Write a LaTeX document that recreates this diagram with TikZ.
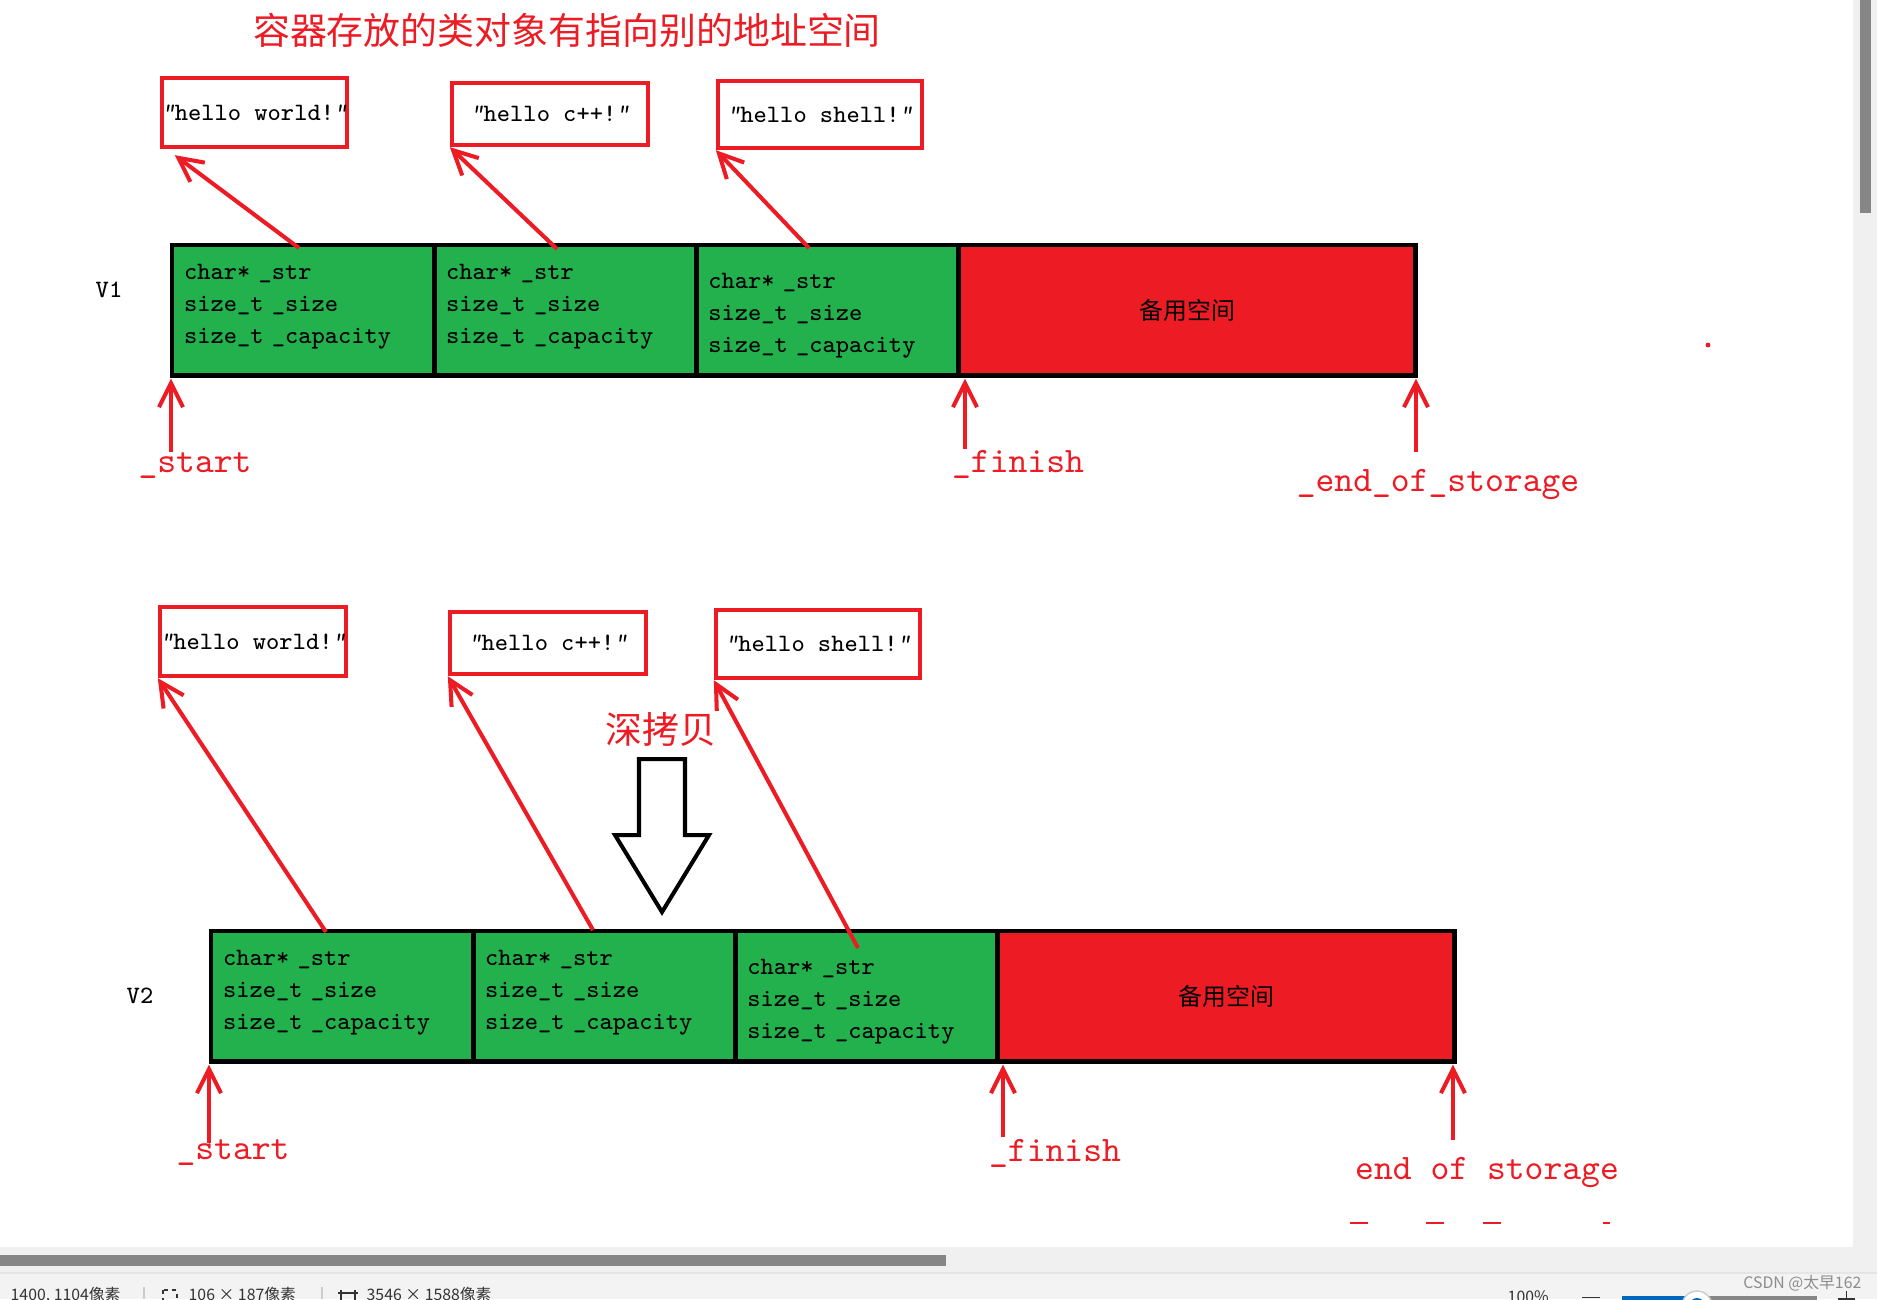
\documentclass[tikz,border=0pt]{standalone}
\usepackage{fontspec}
\newfontfamily\cjk{Noto Sans CJK SC}
\usetikzlibrary{positioning,arrows.meta}
\definecolor{cellgreen}{HTML}{22B14C}
\definecolor{boxred}{HTML}{ED1C24}
\definecolor{panelgray}{HTML}{F0F0F0}
\definecolor{statusgray}{HTML}{F3F3F3}
\definecolor{thumbgray}{HTML}{868686}
\definecolor{sliderblue}{HTML}{0067C0}
\definecolor{inkgray}{HTML}{333333}
\newcommand{\memberfont}{\fontsize{7.1}{9.1}\selectfont\ttfamily}
\newcommand{\tagfont}{\fontsize{10.2}{12}\selectfont\ttfamily}
\newcommand{\headfont}{\fontsize{10.5}{12}\selectfont\cjk}
\newcommand{\sparefont}{\fontsize{6.8}{8}\selectfont\cjk}
\newcommand{\statusfont}{\fontsize{4.5}{5}\selectfont\cjk}
\newcommand{\dq}{{\slshape"}}
\newcommand{\members}[1]{\raisebox{#1}[\height][\depth]{\begin{tabular}{@{}l@{}}char* \_str\\size\_t \_size\\size\_t \_capacity\end{tabular}}}
\tikzset{
  cell/.style={draw=black, line width=1.4pt, fill=cellgreen, anchor=north west, outer sep=0pt,
    minimum height=1.3cm, text width=2.38cm, inner xsep=0.12cm, inner ysep=0pt,
    align=left, font=\memberfont},
  spare/.style={draw=black, line width=1.4pt, fill=boxred, outer sep=0pt, minimum width=4.57cm,
    minimum height=1.3cm, font=\sparefont},
  strbox/.style={draw=boxred, line width=1.2pt, inner sep=0pt, font=\memberfont},
  ptr/.style={draw=boxred, line width=1.15pt, -{Straight Barb[length=0.24cm, width=0.24cm]}},
  tagtext/.style={text=boxred, font=\tagfont, inner sep=0pt},
  statustext/.style={text=inkgray, font=\statusfont, inner sep=0pt, anchor=base west}
}
\begin{document}
\begin{tikzpicture}[x=0.01cm, y=-0.01cm]
\useasboundingbox (0,0) rectangle (1877,1299);
\fill[white] (0,0) rectangle (1877,1299);

\node[text=boxred, font=\headfont] (title) at (567,30) {容器存放的类对象有指向别的地址空间};

\node[strbox, minimum width=1.85cm, minimum height=0.69cm] (s1) at (254.5,112.5) {\dq hello world!\dq};
\node[strbox, minimum width=1.96cm, minimum height=0.62cm] (s2) at (550,114) {\dq hello c++!\dq};
\node[strbox, minimum width=2.04cm, minimum height=0.67cm] (s3) at (820,114.5) {\dq hello shell!\dq};

\node[font=\memberfont] (v1) at (109,290) {V1};
\node[cell] (a1) at (172,245) {\members{1.4pt}};
\node[cell, right=0pt of a1] (b1) {\members{1.4pt}};
\node[cell, right=0pt of b1] (c1) {\members{-1.2pt}};
\node[spare, right=0pt of c1] (r1) {备用空间};

\coordinate (t1) at (299,248);
\coordinate (t2) at (557,249);
\coordinate (t3) at (809,248);
\draw[ptr] (t1) -- ([xshift=0.15cm, yshift=-0.06cm]s1.south west);
\draw[ptr] (t2) -- (s2.south west);
\draw[ptr] (t3) -- (s3.south west);

\coordinate (st1) at (171,452);
\coordinate (fi1) at (965,449);
\coordinate (en1) at (1416,452);
\draw[ptr, shorten >=1pt] (st1) -- (st1 |- a1.south);
\draw[ptr, shorten >=1pt] (fi1) -- (fi1 |- a1.south);
\draw[ptr, shorten >=1pt] (en1) -- (en1 |- a1.south);
\node[tagtext] (l1) at (195,466) {\_start};
\node[tagtext] (l2) at (1018,464) {\_finish};
\node[tagtext] (l3) at (1438,485) {\_end\_of\_storage};
\fill[boxred] (1708,345) circle (0.7pt);

\node[strbox, minimum width=1.86cm, minimum height=0.69cm] (s4) at (253,641.5) {\dq hello world!\dq};
\node[strbox, minimum width=1.96cm, minimum height=0.62cm] (s5) at (548,643) {\dq hello c++!\dq};
\node[strbox, minimum width=2.04cm, minimum height=0.68cm] (s6) at (818,644) {\dq hello shell!\dq};

\node[text=boxred, font=\headfont] (deep) at (661,729) {深拷贝};
\draw[black, line width=1.15pt, fill=white] (639,759) -- (685,759) -- (685,835) -- (709,835)
  -- (662,912) -- (615,835) -- (639,835) -- cycle;

\node[font=\memberfont] (v2) at (140,996) {V2};
\node[cell] (a2) at (211,931) {\members{1.4pt}};
\node[cell, right=0pt of a2] (b2) {\members{1.4pt}};
\node[cell, right=0pt of b2] (c2) {\members{-1.2pt}};
\node[spare, right=0pt of c2] (r2) {备用空间};

\coordinate (t4) at (326,932);
\coordinate (t5) at (593,930);
\coordinate (t6) at (858,948);
\draw[ptr] (t4) -- (s4.south west);
\draw[ptr] (t5) -- (s5.south west);
\draw[ptr] (t6) -- (s6.south west);

\coordinate (st2) at (209,1143);
\coordinate (fi2) at (1003,1137);
\coordinate (en2) at (1453,1140);
\draw[ptr, shorten >=1pt] (st2) -- (st2 |- a2.south);
\draw[ptr, shorten >=1pt] (fi2) -- (fi2 |- a2.south);
\draw[ptr, shorten >=1pt] (en2) -- (en2 |- a2.south);
\node[tagtext] (l4) at (233,1153) {\_start};
\node[tagtext] (l5) at (1055,1153) {\_finish};
\node[tagtext] (l6) at (1487,1173) {end of storage};
\foreach \a/\b in {1350/1368,1426/1444,1483/1501,1603/1610}
  \draw[boxred, line width=0.6pt] (\a,1223) -- (\b,1223);

\fill[panelgray] (1853,0) rectangle (1877,1273);
\fill[panelgray] (0,1247) rectangle (1877,1273);
\fill[thumbgray] (1860,0) rectangle (1871,213);
\fill[thumbgray] (0,1255) rectangle (946,1266);
\fill[statusgray] (0,1273) rectangle (1877,1299);
\draw[black!10, line width=0.4pt] (0,1273) -- (1877,1273);

\node[statustext] (pos) at (10,1300.5) {1400, 1104像素};
\draw[black!20, line width=0.4pt] (144,1287) -- (144,1299);
\draw[inkgray, line width=0.4pt, dash pattern=on 1.2pt off 1.2pt] (163,1290) rectangle (177,1308);
\node[statustext] (sel) at (188,1300.5) {106 × 187像素};
\draw[black!20, line width=0.4pt] (322,1287) -- (322,1299);
\draw[inkgray, line width=0.4pt] (341,1306) -- (341,1290) (355,1290) -- (355,1306) (338,1293) -- (358,1293);
\node[statustext] (img) at (366,1300.5) {3546 × 1588像素};

\node[statustext] (zoomlvl) at (1507,1302) {100\%};
\draw[inkgray, line width=0.4pt] (1582,1297.5) -- (1600,1297.5);
\fill[sliderblue] (1622,1296) rectangle (1697,1304);
\fill[thumbgray] (1697,1296) rectangle (1817,1304);
\filldraw[fill=white, draw=black!20, line width=0.4pt] (1697,1306) circle (0.15cm);
\fill[sliderblue] (1697,1306) circle (0.08cm);
\draw[inkgray, line width=0.4pt] (1838,1299) -- (1855,1299) (1846.5,1291) -- (1846.5,1308);
\node[text=black!45, font=\statusfont, inner sep=0pt, anchor=base east] (csdn) at (1862,1288) {CSDN @太早162};
\end{tikzpicture}
\end{document}
